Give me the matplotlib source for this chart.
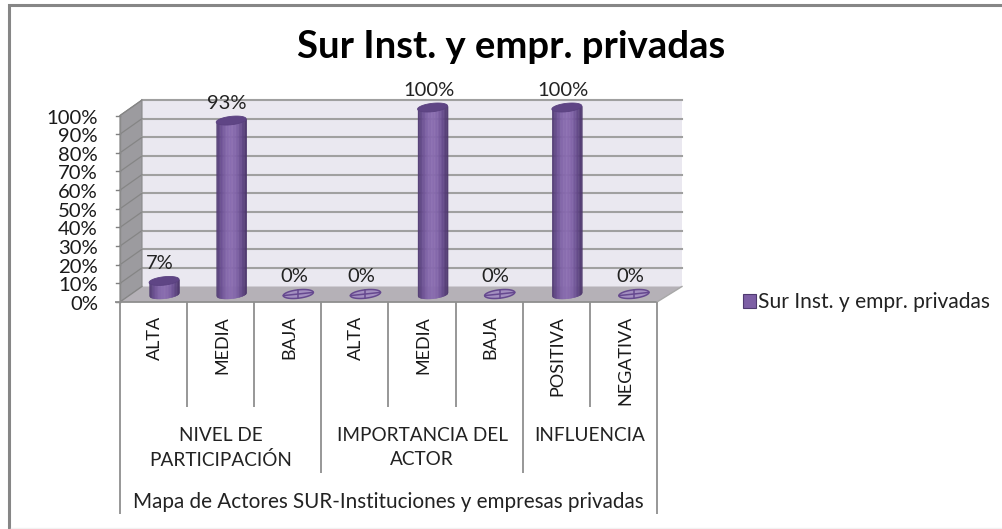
import numpy as np
import matplotlib
matplotlib.use("Agg")
import matplotlib.pyplot as plt
from matplotlib.patches import Polygon

TITLE = "Sur Inst. y empr. privadas"
SERIES = "Sur Inst. y empr. privadas"
categories = ["ALTA", "MEDIA", "BAJA", "ALTA", "MEDIA", "BAJA", "POSITIVA", "NEGATIVA"]
values = [7, 93, 0, 0, 100, 0, 100, 0]
groups = ["NIVEL DE\nPARTICIPACIÓN", "IMPORTANCIA DEL\nACTOR", "INFLUENCIA"]
group_spans = [(0, 3), (3, 6), (6, 8)]
outer_label = "Mapa de Actores SUR-Instituciones y empresas privadas"
yticks = list(range(0, 101, 10))

W, H = 1003, 529
plt.rcParams['font.family'] = ['Lato', 'DejaVu Sans']
fig = plt.figure(figsize=(W / 100, H / 100), dpi=100, facecolor='white')

# Axes occupies the front plane of the 3-D box.
X0, X1, YB, YT = 120, 657, 302, 115.5
ax = fig.add_axes([X0 / W, 1 - YB / H, (X1 - X0) / W, (YB - YT) / H])
ax.set_xlim(0, 8)
ax.set_ylim(0, 100)
ax.axis('off')
ppx = 8 / (X1 - X0)       # data x per pixel
ppy = 100 / (YB - YT)     # data y per pixel
DX, DY = 22 * ppx, 15.5 * ppy   # box depth in data units
DXR = 25 * ppx

# Chart frame, in figure pixels
frame = plt.Line2D([1.0, 9.5 / W, 9.5 / W], [1 - 5 / H, 1 - 5 / H, 0.0],
                   transform=fig.transFigure, color='#868686', lw=2.2,
                   solid_joinstyle='miter', solid_capstyle='butt')
fig.add_artist(frame)
fig.add_artist(plt.Line2D([11 / W, 1.0], [1 - 527.5 / H, 1 - 527.5 / H],
                          transform=fig.transFigure, color='#f2f2f2', lw=1))

def poly(pts, **kw):
    p = Polygon(pts, closed=True, clip_on=False, **kw)
    ax.add_patch(p)
    return p

# Walls and floor
poly([(DX, DY), (8 + DXR, DY), (8 + DXR, 100 + DY), (DX, 100 + DY)],
     facecolor='#eae8f0', edgecolor='none', zorder=1)
poly([(0, 0), (DX, DY), (DX, 100 + DY), (0, 100)],
     facecolor='#9c9b9f', edgecolor='#8a8a8a', lw=0.8, zorder=1)
poly([(0, 0), (DX, DY), (8 + DXR, DY), (8, 0)],
     facecolor='#b5b1b7', edgecolor='none', zorder=1.5)

for t in yticks:
    if t > 0:
        ax.plot([DX, 8 + DXR], [t + DY, t + DY], color='#a0a0a0', lw=1.5, zorder=2, clip_on=False)
    ax.plot([0, DX], [t, t + DY], color='#858585', lw=0.9, zorder=2, clip_on=False)
    ax.plot([-4 * ppx, 0], [t, t], color='#808080', lw=1, zorder=2, clip_on=False)
    ax.text(-22 * ppx, t - 2.5 * ppy, f"{t}%", ha='right', va='center', fontsize=14.6,
            color='#1a1a1a', clip_on=False)
ax.plot([0, 0], [0, 100], color='#8a8a8a', lw=1, clip_on=False, zorder=2)

# Cylinders
RX = 15 * ppx
RY = 4.2 * ppy
TILT = 1.6 * ppy
BASE = 8 * ppy
shift = 10.5 * ppx
cmap = matplotlib.colors.LinearSegmentedColormap.from_list(
    'cyl', ['#4f3a70', '#6b4f93', '#8366aa', '#8a6cb0', '#8063a8', '#654a8b', '#4a3569'])
edges = np.linspace(-1, 1, 41)
theta = np.linspace(0, 2 * np.pi, 60)

for i, v in enumerate(values):
    cx = i + 0.5 + shift
    ell = lambda lvl: np.column_stack([cx + RX * np.cos(theta),
                                       lvl + RY * np.sin(theta) + TILT * np.cos(theta)])
    if v == 0:
        poly(ell(BASE), facecolor='#a38fc0', edgecolor='#66498f', lw=1.1, zorder=3)
        ax.plot([cx - RX, cx + RX], [BASE - TILT, BASE + TILT], color='#66498f', lw=1.1, zorder=3.1)
        ax.plot([cx, cx], [BASE - RY, BASE + RY], color='#66498f', lw=1.1, zorder=3.1)
    else:
        for a, b in zip(edges[:-1], edges[1:]):
            s = np.array([a, b])
            low = BASE - RY * np.sqrt(1 - s ** 2) + TILT * s
            top = BASE + v + TILT * s
            ax.fill_between(cx + RX * s, low, top, color=cmap((a + b + 2) / 4), lw=0.3,
                            zorder=3, clip_on=False)
        poly(ell(BASE + v), facecolor='#5f4585', edgecolor='#5a4180', lw=0.6, zorder=3.2)
    label_y = BASE + v + 5.2 * ppy + 12 * ppy
    ax.text(i + 0.5 + 6.5 * ppx, label_y, f"{v}%", ha='center', va='center',
            fontsize=14.5, color='#222222', clip_on=False, zorder=4)

# Category axis
line = dict(color='#8f8f8f', lw=1.3, clip_on=False, zorder=2, solid_capstyle='butt')
ax.plot([-5 * ppx, 8], [0, 0], **line)
ax.plot([8, 8 + DXR], [0, DY], color='#a8a8a8', lw=1, clip_on=False, zorder=2)
lvl1, lvl2, lvl3 = -105 * ppy, -171 * ppy, -212 * ppy
for i in range(9):
    if i in (0, 3, 6, 8):
        continue
    ax.plot([i, i], [0, lvl1], **line)
for i in (3, 6):
    ax.plot([i, i], [0, lvl2], **line)
for i in (0, 8):
    ax.plot([i, i], [0, lvl3], **line)
for i, c in enumerate(categories):
    ax.text(i + 0.5 + 1.5 * ppx, -14 * ppy, c, rotation=90, ha='center', va='top',
            fontsize=13, color='#1a1a1a', clip_on=False)
for g, (a, b) in zip(groups, group_spans):
    ax.text((a + b) / 2, -125 * ppy, g, ha='center', va='top', fontsize=13.7,
            color='#222222', linespacing=1.5, clip_on=False)
ax.text(4, -200 * ppy, outer_label, ha='center', va='center', fontsize=14.9,
        color='#222222', clip_on=False)

# Title
fig.text(511 / W, 1 - 47 / H, TITLE, ha='center', va='center', fontsize=27.5,
         fontweight='bold', color='black')

# Legend
h = plt.Rectangle((0, 0), 1, 1, facecolor='#7d5fa5', edgecolor='#4f3a70', lw=0.8)
fig.legend([h], [SERIES], loc='center left', bbox_to_anchor=(743 / W, 1 - 302 / H),
           frameon=False, fontsize=15.1, handlelength=0.6, handleheight=0.65,
           handletextpad=0.12, borderpad=0, borderaxespad=0, labelcolor='#222222')

fig.savefig('out.png', dpi=100, facecolor='white')
